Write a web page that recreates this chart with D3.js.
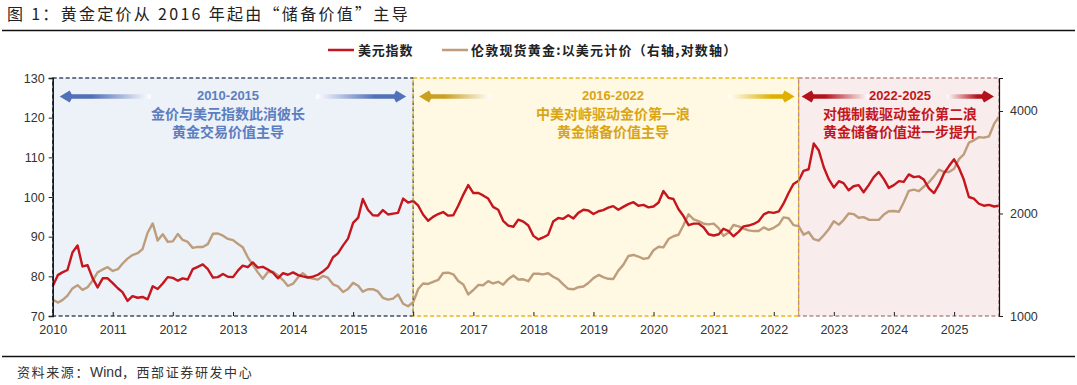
<!DOCTYPE html>
<html>
<head>
<meta charset="utf-8">
<script src="https://cdn.jsdelivr.net/npm/d3@7"></script>
<style>
  body { margin: 0; background: #fff; }
  svg { display: block; }
  text { font-family: "Liberation Sans", Arial, sans-serif; }
  .cjk { font-family: "Noto Sans CJK SC", sans-serif; }
</style>
</head>
<body>
<div id="chart"></div>
<script>
// monthly values, Jan 2010 .. Oct 2025
const dxy = [
  77.5, 80.3, 81.0, 81.6, 86.0, 87.8, 82.5, 82.8, 79.5, 77.2, 79.5, 79.5,
  78.3, 77.0, 76.0, 73.8, 75.0, 74.6, 74.8, 74.2, 77.5, 76.8, 78.2, 79.8,
  79.6, 78.9, 79.5, 79.2, 81.8, 82.4, 83.0, 81.8, 79.7, 79.8, 80.6, 79.9,
  79.8, 81.5, 82.7, 82.3, 83.5, 82.2, 82.4, 81.7, 80.9, 79.5, 80.8, 80.4,
  81.0, 80.3, 80.0, 79.7, 79.9, 80.4, 81.2, 82.3, 84.8, 85.8, 87.8, 89.5,
  93.5, 94.8, 99.5, 96.8, 95.4, 95.3, 96.7, 95.6, 95.8, 96.0, 99.6, 98.6,
  99.0, 97.8, 95.6, 94.0, 95.0, 95.7, 96.2, 95.3, 95.4, 97.8, 100.6, 103.0,
  101.0, 101.0, 100.4, 99.6, 97.5, 96.8, 94.0, 92.8, 92.5, 94.3, 93.8, 92.8,
  90.2, 89.3, 89.8, 90.5, 93.8, 94.7, 94.5, 95.4, 94.6, 96.0, 96.8, 96.6,
  95.7, 96.4, 96.7, 97.3, 97.7, 96.8, 97.5, 98.2, 98.7, 97.8, 98.0, 97.4,
  97.6, 98.6, 101.5, 99.8, 99.5, 96.9, 95.2, 92.9, 93.3, 93.3, 92.3, 90.6,
  90.3, 90.6, 92.0, 91.4, 90.1, 91.2, 92.6, 92.8, 93.2, 93.9, 95.6, 96.2,
  96.0, 96.4, 98.3, 101.0, 103.3, 104.1, 106.6, 107.0, 113.5, 111.8, 107.5, 104.5,
  102.4, 104.0, 103.5, 101.7, 102.7, 103.0, 101.2, 103.0, 105.0, 106.3, 104.5, 102.3,
  103.0, 104.0, 103.8, 105.7, 105.0, 105.2, 104.4, 102.2, 101.0, 103.1, 106.0, 107.8,
  109.5, 107.2, 104.4, 100.0, 99.6, 98.3, 97.8, 98.0, 97.6, 97.8
];

const gold = [
  1118, 1095, 1113, 1148, 1205, 1232, 1193, 1215, 1271, 1343, 1370, 1391,
  1356, 1372, 1424, 1474, 1510, 1529, 1572, 1756, 1870, 1665, 1739, 1652,
  1656, 1742, 1673, 1650, 1585, 1596, 1594, 1626, 1744, 1747, 1721, 1684,
  1670, 1627, 1593, 1487, 1414, 1343, 1286, 1347, 1349, 1316, 1275, 1225,
  1244, 1300, 1336, 1299, 1287, 1279, 1311, 1296, 1239, 1222, 1176, 1200,
  1251, 1227, 1179, 1198, 1199, 1181, 1131, 1117, 1125, 1157, 1086, 1068,
  1097, 1200, 1246, 1242, 1260, 1276, 1337, 1340, 1326, 1267, 1238, 1157,
  1192, 1234, 1231, 1266, 1246, 1260, 1236, 1283, 1315, 1280, 1282, 1265,
  1331, 1331, 1325, 1335, 1304, 1281, 1238, 1202, 1198, 1215, 1221, 1250,
  1292, 1320, 1300, 1286, 1284, 1359, 1413, 1500, 1511, 1495, 1471, 1480,
  1560, 1597, 1591, 1683, 1715, 1732, 1847, 1990, 1922, 1900, 1866, 1858,
  1867, 1808, 1718, 1760, 1850, 1834, 1807, 1785, 1776, 1777, 1821, 1790,
  1816, 1856, 1948, 1937, 1849, 1837, 1733, 1764, 1681, 1664, 1726, 1798,
  1898, 1855, 1913, 2000, 1992, 1943, 1951, 1918, 1916, 1916, 1985, 2031,
  2034, 2023, 2158, 2331, 2351, 2326, 2398, 2470, 2571, 2690, 2651, 2648,
  2709, 2895, 2984, 3229, 3281, 3352, 3340, 3368, 3665, 3850
];

const yearTicks = d3.range(2010, 2026);
const leftTicks = [70, 80, 90, 100, 110, 120, 130];
const rightTicks = [1000, 2000, 4000];

// the three phases
const phases = [
  { start: '2010-01-01', end: '2016-01-01', fill: '#edf1f8', stroke: '#3e4d68', color: '#5b7ec1',
    title: '2010-2015', lines: ['金价与美元指数此消彼长', '黄金交易价值主导'] },
  { start: '2016-01-01', end: '2022-06-01', fill: '#fff8e3', stroke: '#e8b81a', color: '#d9a514',
    title: '2016-2022', lines: ['中美对峙驱动金价第一浪', '黄金储备价值主导'] },
  { start: '2022-06-01', end: '2025-10-01', fill: '#f8ecec', stroke: '#b88a8a', color: '#c4161c',
    title: '2022-2025', lines: ['对俄制裁驱动金价第二浪', '黄金储备价值进一步提升'] }
];

const width = 1077, height = 385;
const plot = { left: 52.7, right: 999, top: 78, bottom: 316 };
const startDate = new Date(2010, 0, 1);
const endDate = new Date(2025, 9, 1);
const parse = d3.timeParse('%Y-%m-%d');

const x = d3.scaleTime().domain([startDate, endDate]).range([plot.left, plot.right]);
const yL = d3.scaleLinear().domain([70, 130]).range([plot.bottom, plot.top]);
const yR = d3.scaleLog().domain([1000, 5000]).range([plot.bottom, plot.top]);

const svg = d3.select('#chart').append('svg')
  .attr('width', width)
  .attr('height', height);

const defs = svg.append('defs');

// title
svg.append('text')
  .attr('class', 'cjk')
  .attr('x', 7).attr('y', 20)
  .attr('font-size', 16)
  .attr('letter-spacing', 2.3)
  .attr('fill', '#222')
  .text('图 1：黄金定价从 2016 年起由“储备价值”主导');
svg.append('line')
  .attr('x1', 2).attr('x2', width - 2)
  .attr('y1', 30.5).attr('y2', 30.5)
  .attr('stroke', '#111').attr('stroke-width', 1.3);

// footer
svg.append('line')
  .attr('x1', 2).attr('x2', width - 2)
  .attr('y1', 356.5).attr('y2', 356.5)
  .attr('stroke', '#111').attr('stroke-width', 1.3);
const foot = svg.append('text')
  .attr('class', 'cjk')
  .attr('x', 17).attr('y', 377)
  .attr('font-size', 13)
  .attr('fill', '#333');
foot.append('tspan').attr('letter-spacing', 1.6).text('资料来源：');
foot.append('tspan').attr('font-family', '"Liberation Sans", Arial, sans-serif').attr('font-size', 14).text('Wind');
foot.append('tspan').attr('letter-spacing', 1.6).text('，西部证券研发中心');

// legend
const legend = svg.append('g').attr('transform', 'translate(0,50)');
legend.append('line').attr('x1', 328).attr('x2', 354).attr('y1', 0).attr('y2', 0)
  .attr('stroke', '#c4161c').attr('stroke-width', 2.5);
legend.append('text').attr('class', 'cjk').attr('x', 358).attr('y', 4.8)
  .attr('font-size', 13).attr('letter-spacing', 0.8).attr('font-weight', 'bold').attr('fill', '#222').text('美元指数');
legend.append('line').attr('x1', 442).attr('x2', 468).attr('y1', 0).attr('y2', 0)
  .attr('stroke', '#bd9d7c').attr('stroke-width', 2.5);
legend.append('text').attr('class', 'cjk').attr('x', 471).attr('y', 4.8)
  .attr('font-size', 13).attr('letter-spacing', 1.2).attr('font-weight', 'bold').attr('fill', '#222')
  .text('伦敦现货黄金:以美元计价（右轴,对数轴）');

// phase boxes
const boxes = svg.append('g');
phases.forEach(p => {
  const x0 = x(parse(p.start)), x1 = x(parse(p.end));
  boxes.append('rect')
    .attr('x', x0).attr('y', plot.top)
    .attr('width', x1 - x0).attr('height', plot.bottom - plot.top)
    .attr('fill', p.fill);
});

// lines
const gLine = d3.line()
  .x((d, i) => x(d3.timeMonth.offset(startDate, i)))
  .y(d => yR(d));
const dLine = d3.line()
  .x((d, i) => x(d3.timeMonth.offset(startDate, i)))
  .y(d => yL(d));

svg.append('path').datum(gold)
  .attr('d', gLine)
  .attr('fill', 'none')
  .attr('stroke', '#bd9d7c')
  .attr('stroke-width', 2.4)
  .attr('stroke-linejoin', 'round');
svg.append('path').datum(dxy)
  .attr('d', dLine)
  .attr('fill', 'none')
  .attr('stroke', '#c4161c')
  .attr('stroke-width', 2.4)
  .attr('stroke-linejoin', 'round');

// dashed box borders on top
phases.forEach(p => {
  const x0 = x(parse(p.start)), x1 = x(parse(p.end));
  svg.append('rect')
    .attr('x', x0).attr('y', plot.top)
    .attr('width', x1 - x0).attr('height', plot.bottom - plot.top)
    .attr('fill', 'none')
    .attr('stroke', p.stroke)
    .attr('stroke-width', 1.3)
    .attr('stroke-dasharray', '4,2.5');
});

// arrows: shaft fades to white away from the tip
function arrow(tipX, tailX, y, color, id) {
  const dir = tipX < tailX ? -1 : 1;
  const grad = defs.append('linearGradient')
    .attr('id', id)
    .attr('gradientUnits', 'userSpaceOnUse')
    .attr('x1', tipX).attr('x2', tailX).attr('y1', 0).attr('y2', 0);
  grad.append('stop').attr('offset', '0%').attr('stop-color', color);
  grad.append('stop').attr('offset', '35%').attr('stop-color', color);
  grad.append('stop').attr('offset', '100%').attr('stop-color', '#fff');
  const headLen = 12, headH = 6, shaft = 2.2;
  const base = tipX - dir * headLen;
  svg.append('path')
    .attr('d', `M${tailX},${y - shaft}L${base},${y - shaft}L${base + dir * 2},${y - headH}` +
      `L${tipX},${y}L${base + dir * 2},${y + headH}L${base},${y + shaft}L${tailX},${y + shaft}Z`)
    .attr('fill', `url(#${id})`);
}

const ay = 96.5;
const px = phases.map(p => [x(parse(p.start)), x(parse(p.end))]);
arrow(px[0][0] + 7, px[0][0] + 98, ay, '#5070b8', 'a1');
arrow(px[0][1] - 7, px[0][1] - 97, ay, '#5070b8', 'a2');
arrow(px[1][0] + 6, px[1][0] + 78, ay, '#c9a020', 'a3');
arrow(px[1][1] - 4, px[1][1] - 70, ay, '#e0b000', 'a4');
arrow(px[2][0] + 3, px[2][0] + 70, ay, '#b3121a', 'a5');
arrow(px[2][1] - 5, px[2][1] - 52, ay, '#b3121a', 'a6');

// phase labels
const labelCenters = [228, 613, 900];
phases.forEach((p, i) => {
  const g = svg.append('g').attr('fill', p.color).attr('text-anchor', 'middle');
  g.append('text')
    .attr('x', labelCenters[i]).attr('y', 100)
    .attr('font-size', 13).attr('font-weight', 'bold')
    .text(p.title);
  p.lines.forEach((l, j) => {
    g.append('text')
      .attr('class', 'cjk')
      .attr('x', labelCenters[i]).attr('y', 118.5 + j * 18.5)
      .attr('font-size', 14).attr('font-weight', 'bold')
      .text(l);
  });
});

// axes
const axisL = svg.append('g')
  .attr('transform', `translate(${plot.left},0)`)
  .call(d3.axisLeft(yL).tickValues(leftTicks).tickSize(4).tickPadding(4));
const axisR = svg.append('g')
  .attr('transform', `translate(${plot.right},0)`)
  .call(d3.axisRight(yR).tickValues(rightTicks).tickFormat(d3.format('d')).tickSize(4).tickPadding(7));
const axisB = svg.append('g')
  .attr('transform', `translate(0,${plot.bottom})`)
  .call(d3.axisBottom(x).tickValues(yearTicks.map(yr => new Date(yr, 0, 1)))
    .tickFormat(d3.timeFormat('%Y')).tickSize(-4).tickPadding(9));

[axisL, axisR, axisB].forEach(a => {
  a.selectAll('text').attr('font-size', 12.5).attr('fill', '#333')
    .attr('font-family', '"Liberation Sans", Arial, sans-serif');
  a.selectAll('.tick line').attr('stroke', '#222');
});
axisL.select('.domain').attr('stroke', '#111').attr('stroke-width', 1.5);
axisR.select('.domain').attr('stroke', '#111').attr('stroke-width', 1.2);
axisB.select('.domain').attr('stroke', 'none');
</script>
</body>
</html>
